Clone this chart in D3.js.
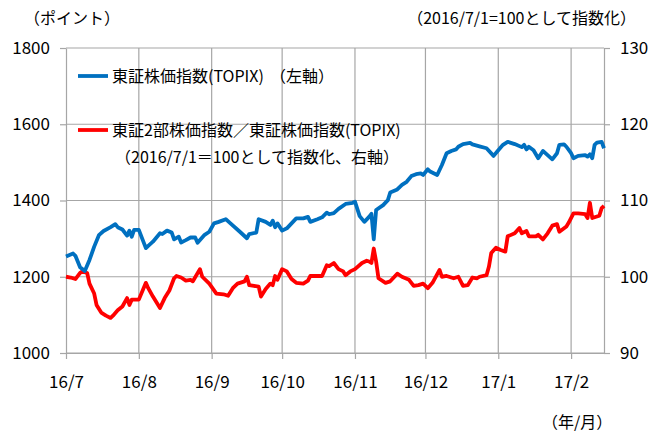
<!DOCTYPE html>
<html>
<head>
<meta charset="utf-8">
<script src="https://cdn.jsdelivr.net/npm/d3@7"></script>
<style>
body { margin: 0; background: #fff; }
text { font-family: "Noto Sans CJK JP", sans-serif; fill: #000; }
</style>
</head>
<body>
<svg id="svg" width="651" height="432"></svg>
<script>
// TOPIX (left axis, points)
var topix = [
	["2016-07-01",1253],["2016-07-04",1261],["2016-07-05",1255],["2016-07-07",1225],["2016-07-09",1215],
	["2016-07-11",1244],["2016-07-13",1279],["2016-07-15",1309],["2016-07-17",1320],["2016-07-20",1330],
	["2016-07-22",1338],["2016-07-23",1330],["2016-07-25",1324],["2016-07-27",1308],["2016-07-28",1321],
	["2016-07-29",1305],["2016-07-30",1323],["2016-08-01",1323],["2016-08-04",1275],["2016-08-05",1281],
	["2016-08-07",1292],["2016-08-10",1314],["2016-08-11",1312],["2016-08-13",1321],["2016-08-15",1316],
	["2016-08-16",1298],["2016-08-18",1305],["2016-08-19",1290],["2016-08-21",1296],["2016-08-23",1303],
	["2016-08-25",1303],["2016-08-26",1289],["2016-08-29",1310],["2016-08-31",1318],["2016-09-02",1340],
	["2016-09-04",1344],["2016-09-07",1351],["2016-09-09",1340],["2016-09-13",1318],["2016-09-16",1301],
	["2016-09-17",1312],["2016-09-20",1316],["2016-09-21",1351],["2016-09-24",1344],["2016-09-26",1336],
	["2016-09-27",1347],["2016-09-28",1330],["2016-09-29",1340],["2016-10-01",1321],["2016-10-03",1327],
	["2016-10-05",1340],["2016-10-07",1353],["2016-10-10",1353],["2016-10-12",1357],["2016-10-13",1344],
	["2016-10-16",1351],["2016-10-18",1356],["2016-10-20",1368],["2016-10-21",1364],["2016-10-23",1367],
	["2016-10-25",1378],["2016-10-28",1391],["2016-10-31",1394],["2016-11-01",1397],["2016-11-03",1359],
	["2016-11-05",1344],["2016-11-07",1357],["2016-11-08",1365],["2016-11-09",1298],["2016-11-10",1375],
	["2016-11-13",1388],["2016-11-15",1401],["2016-11-16",1421],["2016-11-19",1429],["2016-11-21",1441],
	["2016-11-23",1449],["2016-11-25",1464],["2016-11-27",1469],["2016-11-29",1471],["2016-11-30",1467],
	["2016-12-02",1482],["2016-12-03",1476],["2016-12-06",1467],["2016-12-08",1493],["2016-12-10",1524],
	["2016-12-12",1530],["2016-12-14",1534],["2016-12-15",1541],["2016-12-17",1548],["2016-12-20",1551],
	["2016-12-21",1547],["2016-12-24",1542],["2016-12-27",1537],["2016-12-30",1517],["2017-01-01",1532],
	["2017-01-03",1546],["2017-01-05",1554],["2017-01-08",1548],["2017-01-11",1540],["2017-01-12",1546],
	["2017-01-13",1534],["2017-01-14",1541],["2017-01-16",1532],["2017-01-18",1511],["2017-01-20",1530],
	["2017-01-22",1519],["2017-01-24",1508],["2017-01-26",1524],["2017-01-27",1546],["2017-01-29",1547],
	["2017-01-30",1541],["2017-02-01",1524],["2017-02-02",1511],["2017-02-04",1517],["2017-02-07",1519],
	["2017-02-08",1515],["2017-02-09",1521],["2017-02-10",1511],["2017-02-11",1546],["2017-02-12",1552],
	["2017-02-14",1554],["2017-02-15",1537]
]

// TSE2 / TOPIX, 2016/7/1 = 100 (right axis)
var ratio = [
	["2016-07-01",100.0],["2016-07-03",99.9],["2016-07-05",99.7],["2016-07-07",100.5],["2016-07-08",100.7],
	["2016-07-10",100.5],["2016-07-11",99.1],["2016-07-13",97.8],["2016-07-14",96.3],["2016-07-16",95.3],
	["2016-07-18",94.9],["2016-07-20",94.6],["2016-07-21",94.9],["2016-07-23",95.6],["2016-07-25",96.1],
	["2016-07-27",97.2],["2016-07-28",96.3],["2016-07-29",97.0],["2016-08-01",97.0],["2016-08-04",99.2],
	["2016-08-05",98.5],["2016-08-07",97.4],["2016-08-10",95.9],["2016-08-12",97.2],["2016-08-14",98.2],
	["2016-08-16",99.8],["2016-08-17",100.1],["2016-08-19",99.9],["2016-08-21",99.5],["2016-08-23",99.6],
	["2016-08-24",99.4],["2016-08-27",101.0],["2016-08-28",100.0],["2016-08-31",99.1],["2016-09-03",97.8],
	["2016-09-06",97.7],["2016-09-08",97.5],["2016-09-10",98.5],["2016-09-12",99.1],["2016-09-15",99.4],
	["2016-09-16",100.0],["2016-09-17",98.9],["2016-09-19",98.8],["2016-09-21",98.7],["2016-09-22",97.4],
	["2016-09-24",98.4],["2016-09-26",99.1],["2016-09-27",98.9],["2016-09-28",100.1],["2016-09-29",99.6],
	["2016-10-01",101.0],["2016-10-03",100.7],["2016-10-05",99.7],["2016-10-07",99.2],["2016-10-10",99.1],
	["2016-10-12",99.5],["2016-10-13",100.1],["2016-10-18",100.1],["2016-10-20",101.5],["2016-10-21",101.4],
	["2016-10-23",101.8],["2016-10-25",101.0],["2016-10-27",100.7],["2016-10-28",100.2],["2016-10-30",100.7],
	["2016-11-01",101.0],["2016-11-04",101.8],["2016-11-06",102.1],["2016-11-07",102.0],["2016-11-08",101.8],
	["2016-11-09",103.7],["2016-11-10",102.0],["2016-11-11",99.8],["2016-11-14",99.2],["2016-11-16",99.4],
	["2016-11-19",100.4],["2016-11-21",100.0],["2016-11-24",99.6],["2016-11-26",98.8],["2016-11-28",98.9],
	["2016-11-30",99.1],["2016-12-02",98.5],["2016-12-04",99.2],["2016-12-07",100.9],["2016-12-08",100.0],
	["2016-12-10",100.1],["2016-12-13",99.8],["2016-12-15",100.0],["2016-12-17",98.8],["2016-12-19",98.9],
	["2016-12-21",99.9],["2016-12-23",99.8],["2016-12-24",100.0],["2016-12-27",100.2],["2016-12-28",101.3],
	["2016-12-29",103.1],["2016-12-31",103.8],["2017-01-02",103.5],["2017-01-04",103.3],["2017-01-05",105.3],
	["2017-01-08",105.7],["2017-01-10",106.4],["2017-01-11",105.7],["2017-01-13",106.0],["2017-01-14",105.3],
	["2017-01-17",105.3],["2017-01-18",105.5],["2017-01-20",104.9],["2017-01-22",105.7],["2017-01-24",106.7],
	["2017-01-26",106.9],["2017-01-27",105.9],["2017-01-30",106.6],["2017-01-31",107.1],["2017-02-02",108.3],
	["2017-02-04",108.3],["2017-02-07",108.2],["2017-02-08",107.7],["2017-02-09",109.7],["2017-02-10",107.7],
	["2017-02-13",108.0],["2017-02-14",109.0],["2017-02-15",109.3]
]

var monthStarts = ["2016-07-01","2016-08-01","2016-09-01","2016-10-01","2016-11-01","2016-12-01","2017-01-01","2017-02-01"]
var monthLabels = ["16/7","16/8","16/9","16/10","16/11","16/12","17/1","17/2"]
var leftTicks = [1000, 1200, 1400, 1600, 1800]
var rightTicks = [90, 100, 110, 120, 130]

var parse = d3.timeParse("%Y-%m-%d")
var svg = d3.select("#svg")

var plotLeft = 66, plotRight = 604, plotTop = 48, plotBottom = 353

var x = d3.scaleTime()
	.domain([parse("2016-07-01"), parse("2017-02-15")])
	.range([plotLeft, plotRight])
var yL = d3.scaleLinear().domain([1000, 1800]).range([plotBottom, plotTop])
var yR = d3.scaleLinear().domain([90, 130]).range([plotBottom, plotTop])

var grid = "#a6a6a6"

// horizontal grid
svg.append("g").selectAll("line")
	.data(leftTicks)
	.enter().append("line")
	.attr("x1", plotLeft).attr("x2", plotRight)
	.attr("y1", function (d) { return yL(d) }).attr("y2", function (d) { return yL(d) })
	.style("stroke", grid).style("stroke-width", 1.2)

// vertical grid (month starts)
svg.append("g").selectAll("line")
	.data(monthStarts.slice(1))
	.enter().append("line")
	.attr("x1", function (d) { return x(parse(d)) }).attr("x2", function (d) { return x(parse(d)) })
	.attr("y1", plotTop).attr("y2", plotBottom)
	.style("stroke", grid).style("stroke-width", 1.2)

function styleAxis(g) {
	g.select(".domain").style("stroke", grid).style("stroke-width", 1.2)
	g.selectAll(".tick line").style("stroke", grid).style("stroke-width", 1.2)
	g.selectAll("text").style("font-size", "17px").style("fill", "#000")
		.style("font-family", "'Noto Sans CJK JP', sans-serif")
}

svg.append("g")
	.attr("transform", "translate(" + plotLeft + ",0)")
	.call(d3.axisLeft(yL).tickValues(leftTicks).tickSize(6).tickSizeOuter(0).tickPadding(10).tickFormat(d3.format("d")))
	.call(styleAxis)

svg.append("g")
	.attr("transform", "translate(" + plotRight + ",0)")
	.call(d3.axisRight(yR).tickValues(rightTicks).tickSize(6).tickSizeOuter(0).tickPadding(10).tickFormat(d3.format("d")))
	.call(styleAxis)

svg.append("g")
	.attr("transform", "translate(0," + plotBottom + ")")
	.call(d3.axisBottom(x).tickValues(monthStarts.map(parse)).tickSize(6).tickSizeOuter(0).tickPadding(17)
		.tickFormat(function (d, i) { return monthLabels[i] }))
	.call(styleAxis)

// lines
var lineL = d3.line()
	.x(function (d) { return x(parse(d[0])) })
	.y(function (d) { return yL(d[1]) })
var lineR = d3.line()
	.x(function (d) { return x(parse(d[0])) })
	.y(function (d) { return yR(d[1]) })

svg.append("path").attr("d", lineR(ratio))
	.style("fill", "none").style("stroke", "#ff0000").style("stroke-width", 3.8).style("stroke-linejoin", "round")
svg.append("path").attr("d", lineL(topix))
	.style("fill", "none").style("stroke", "#0070c0").style("stroke-width", 3.8).style("stroke-linejoin", "round")

// legend
svg.append("line").attr("x1", 78).attr("x2", 108).attr("y1", 76).attr("y2", 76)
	.style("stroke", "#0070c0").style("stroke-width", 3.8)
svg.append("text").attr("x", 112).attr("y", 82).style("font-size", "16px").text("東証株価指数(TOPIX)")
svg.append("text").attr("x", 270).attr("y", 82).style("font-size", "16px").text("（左軸）")

svg.append("line").attr("x1", 78).attr("x2", 108).attr("y1", 130).attr("y2", 130)
	.style("stroke", "#ff0000").style("stroke-width", 3.8)
svg.append("text").attr("x", 112).attr("y", 136).style("font-size", "16px").text("東証2部株価指数／東証株価指数(TOPIX)")
svg.append("text").attr("x", 115).attr("y", 163).style("font-size", "16px").text("（2016/7/1＝100として指数化、右軸）")

// unit labels
svg.append("text").attr("x", 24).attr("y", 24).style("font-size", "16px").text("（ポイント）")
svg.append("text").attr("x", 636).attr("y", 24).attr("text-anchor", "end").style("font-size", "16px").text("（2016/7/1=100として指数化）")
svg.append("text").attr("x", 542).attr("y", 428).style("font-size", "16px").text("（年/月）")
</script>
</body>
</html>
